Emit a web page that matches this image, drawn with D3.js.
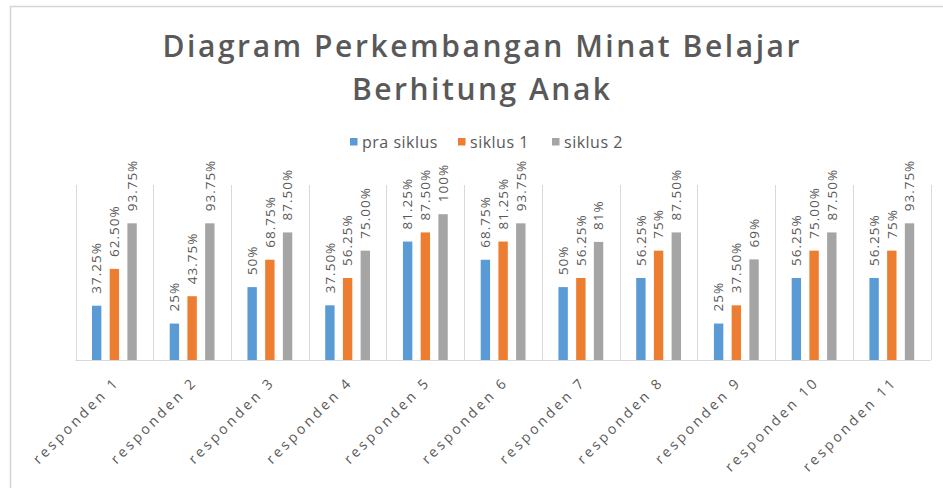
<!DOCTYPE html>
<html>
<head>
<meta charset="utf-8">
<script src="https://cdn.jsdelivr.net/npm/d3@7"></script>
<style>
    body { margin: 0; background: #fff; }
    svg { display: block; font-family: "Open Sans", "Noto Sans", sans-serif; }
</style>
</head>
<body>
<script>
    let categories = ["responden 1", "responden 2", "responden 3", "responden 4", "responden 5", "responden 6",
        "responden 7", "responden 8", "responden 9", "responden 10", "responden 11"];

    let seriesNames = ["pra siklus", "siklus 1", "siklus 2"];

    let praSiklus = [37.25, 25, 50, 37.5, 81.25, 68.75, 50, 56.25, 25, 56.25, 56.25];
    let siklus1 = [62.5, 43.75, 68.75, 56.25, 87.5, 81.25, 56.25, 75, 37.5, 75, 75];
    let siklus2 = [93.75, 93.75, 87.5, 75, 100, 93.75, 81, 87.5, 69, 87.5, 93.75];

    let praLabels = ["37.25%", "25%", "50%", "37.50%", "81.25%", "68.75%", "50%", "56.25%", "25%", "56.25%", "56.25%"];
    let siklus1Labels = ["62.50%", "43.75%", "68.75%", "56.25%", "87.50%", "81.25%", "56.25%", "75%", "37.50%", "75.00%", "75%"];
    let siklus2Labels = ["93.75%", "93.75%", "87.50%", "75.00%", "100%", "93.75%", "81%", "87.50%", "69%", "87.50%", "93.75%"];

    let titleLines = ["Diagram Perkembangan Minat Belajar", "Berhitung Anak"];

    let W = 943, H = 488;
    let margin = {top: 185, right: 12, bottom: 128, left: 75.5};
    let plotW = 930.7 - margin.left,
        baseY = 360;

    let data = categories.map(function (c, i) {
        return {
            name: c,
            values: [
                {key: seriesNames[0], v: praSiklus[i], label: praLabels[i]},
                {key: seriesNames[1], v: siklus1[i], label: siklus1Labels[i]},
                {key: seriesNames[2], v: siklus2[i], label: siklus2Labels[i]}
            ]
        };
    });

    let color = d3.scaleOrdinal()
        .domain(seriesNames)
        .range(["#5B9BD5", "#ED7D31", "#A5A5A5"]);

    let x0 = d3.scaleBand()
        .domain(categories)
        .range([margin.left, margin.left + plotW]);

    let x1 = d3.scaleBand()
        .domain(seriesNames)
        .range([x0.bandwidth() / 2 - 22.4, x0.bandwidth() / 2 + 22.4])
        .paddingInner(0.47)
        .paddingOuter(0);

    let y = d3.scaleLinear()
        .domain([0, 100])
        .range([baseY, baseY - 145.8]);

    let svg = d3.select("body").append("svg")
        .attr("width", W)
        .attr("height", H);

    // chart border (top + left only visible)
    svg.append("line")
        .attr("x1", 10).attr("x2", W).attr("y1", 6.5).attr("y2", 6.5)
        .attr("stroke", "#d4d4d4").attr("stroke-width", 1.5);
    svg.append("line")
        .attr("x1", 10.5).attr("x2", 10.5).attr("y1", 6).attr("y2", H)
        .attr("stroke", "#d4d4d4").attr("stroke-width", 1.5);

    // title
    let titleWidths = [637, 258];
    svg.append("g").selectAll("text")
        .data(titleLines)
        .enter().append("text")
        .attr("x", 481)
        .attr("y", function (d, i) {
            return 57 + i * 43;
        })
        .attr("text-anchor", "middle")
        .attr("textLength", function (d, i) {
            return titleWidths[i];
        })
        .attr("lengthAdjust", "spacing")
        .style("font-size", "30px")
        .style("font-weight", "600")
        .style("fill", "#595959")
        .text(function (d) {
            return d;
        });

    // legend
    let legend = svg.append("g").attr("class", "legend");
    let legendX = [350, 458, 552];
    seriesNames.forEach(function (s, i) {
        let g = legend.append("g").attr("transform", "translate(" + legendX[i] + ",138)");
        g.append("rect")
            .attr("width", 7.5).attr("height", 7.5)
            .style("fill", color(s));
        g.append("text")
            .attr("x", 12)
            .attr("y", 4)
            .attr("dy", ".35em")
            .style("font-size", "16px")
            .style("letter-spacing", "0.5px")
            .style("fill", "#595959")
            .text(s);
    });

    // vertical gridlines at category boundaries
    let bounds = categories.map(function (c) {
        return x0(c);
    }).concat([x0.range()[1]]);

    svg.append("g").selectAll("line")
        .data(bounds)
        .enter().append("line")
        .attr("x1", function (d) { return Math.round(d) + 0.5; })
        .attr("x2", function (d) { return Math.round(d) + 0.5; })
        .attr("y1", margin.top)
        .attr("y2", baseY)
        .attr("stroke", "#d9d9d9")
        .attr("stroke-width", 1);

    // bars
    let slice = svg.selectAll(".slice")
        .data(data)
        .enter().append("g")
        .attr("class", "slice")
        .attr("transform", function (d) {
            return "translate(" + x0(d.name) + ",0)";
        });

    slice.selectAll("rect")
        .data(function (d) {
            return d.values;
        })
        .enter().append("rect")
        .attr("x", function (d) {
            return x1(d.key);
        })
        .attr("width", x1.bandwidth())
        .attr("y", function (d) {
            return y(d.v);
        })
        .attr("height", function (d) {
            return baseY - y(d.v);
        })
        .style("fill", function (d) {
            return color(d.key);
        });

    // value labels, rotated
    slice.selectAll("text.val")
        .data(function (d) {
            return d.values;
        })
        .enter().append("text")
        .attr("class", "val")
        .attr("transform", function (d) {
            return "translate(" + (x1(d.key) + x1.bandwidth() / 2) + "," + (y(d.v) - 12) + ") rotate(-90)";
        })
        .attr("dy", ".35em")
        .style("font-size", "13.5px")
        .style("letter-spacing", "1px")
        .style("fill", "#595959")
        .text(function (d) {
            return d.label;
        });

    // baseline
    svg.append("line")
        .attr("x1", x0.range()[0]).attr("x2", x0.range()[1])
        .attr("y1", baseY + 0.5).attr("y2", baseY + 0.5)
        .attr("stroke", "#d9d9d9");

    // category labels
    svg.append("g").selectAll("text")
        .data(categories)
        .enter().append("text")
        .attr("transform", function (d) {
            return "translate(" + (x0(d) + x0.bandwidth() / 2 + 6) + ",383) rotate(-45)";
        })
        .attr("text-anchor", "end")
        .style("font-size", "14px")
        .style("letter-spacing", "3px")
        .style("fill", "#595959")
        .text(function (d) {
            return d;
        });
</script>
</body>
</html>
